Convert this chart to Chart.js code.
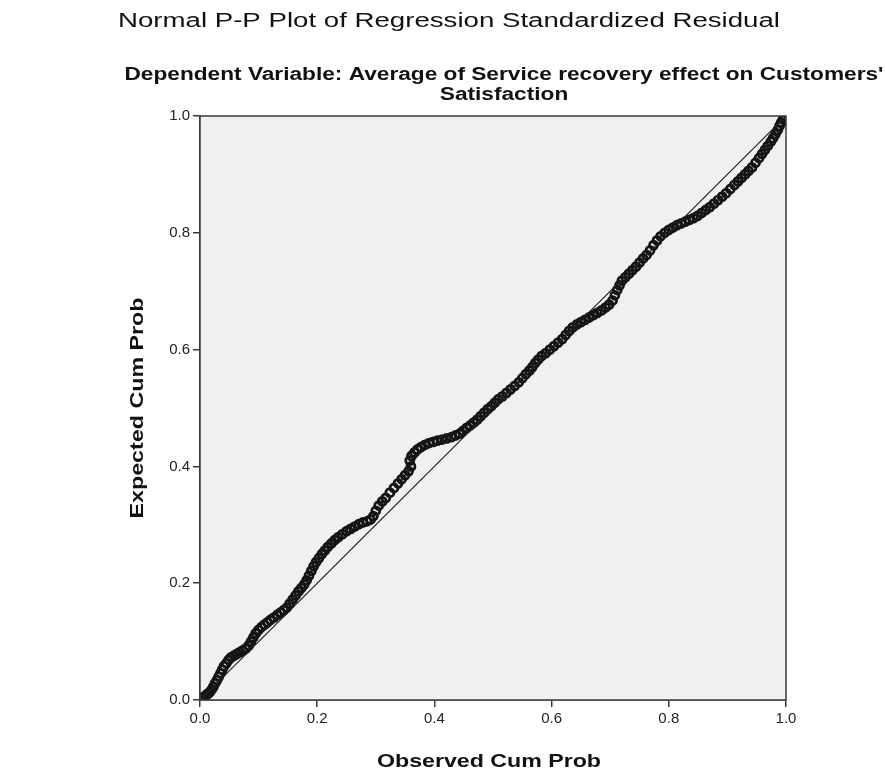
<!DOCTYPE html>
<html>
<head>
<meta charset="utf-8">
<script src="https://cdn.jsdelivr.net/npm/chart.js@4.4.1/dist/chart.umd.min.js"></script>
<style>
    html, body { margin: 0; padding: 0; background: #ffffff; }
    #wrap { width: 885px; height: 772px; }
</style>
</head>
<body>
<div id="wrap"><canvas id="ppChart" width="885" height="772"></canvas></div>
<script>

/// DATA ///

const titleText = 'Normal P-P Plot of Regression Standardized Residual';
const subtitleLines = ["Dependent Variable: Average of Service recovery effect on Customers'", 'Satisfaction'];
const xTitle = 'Observed Cum Prob';
const yTitle = 'Expected Cum Prob';
const tickValues = [0, 0.2, 0.4, 0.6, 0.8, 1.0];

// observed cumulative probability (x)
const observed = [
    0.002, 0.005, 0.008, 0.011, 0.014, 0.017, 0.020, 0.023, 0.026, 0.029,
    0.032, 0.035, 0.038, 0.041, 0.045, 0.049, 0.053, 0.058, 0.063, 0.068,
    0.073, 0.078, 0.083, 0.087, 0.091, 0.095, 0.100, 0.105, 0.110, 0.115,
    0.120, 0.126, 0.132, 0.138, 0.143, 0.148, 0.153, 0.158, 0.163, 0.168,
    0.173, 0.178, 0.182, 0.186, 0.190, 0.194, 0.198, 0.203, 0.208, 0.213,
    0.218, 0.224, 0.230, 0.236, 0.243, 0.250, 0.257, 0.264, 0.271, 0.278,
    0.285, 0.291, 0.296, 0.300, 0.305, 0.311, 0.317, 0.324, 0.331, 0.338,
    0.344, 0.350, 0.356, 0.360, 0.358, 0.361, 0.366, 0.371, 0.377, 0.384,
    0.391, 0.398, 0.405, 0.413, 0.421, 0.429, 0.436, 0.443, 0.449, 0.455,
    0.461, 0.467, 0.473, 0.479, 0.485, 0.491, 0.497, 0.503, 0.509, 0.516,
    0.523, 0.530, 0.537, 0.544, 0.550, 0.556, 0.562, 0.567, 0.572, 0.577,
    0.583, 0.590, 0.597, 0.604, 0.611, 0.618, 0.624, 0.630, 0.636, 0.643,
    0.650, 0.657, 0.664, 0.671, 0.678, 0.685, 0.692, 0.698, 0.704, 0.708,
    0.712, 0.716, 0.720, 0.726, 0.732, 0.738, 0.744, 0.750, 0.756, 0.762,
    0.768, 0.774, 0.780, 0.786, 0.793, 0.800, 0.807, 0.814, 0.821, 0.828,
    0.835, 0.842, 0.849, 0.856, 0.863, 0.870, 0.877, 0.884, 0.891, 0.898,
    0.905, 0.912, 0.918, 0.924, 0.930, 0.936, 0.942, 0.948, 0.954, 0.959,
    0.964, 0.969, 0.974, 0.978, 0.982, 0.986, 0.989, 0.992, 0.995, 0.998
];

// expected cumulative probability (y)
const expected = [
    0.001, 0.004, 0.006, 0.009, 0.011, 0.014, 0.018, 0.023, 0.029, 0.034,
    0.040, 0.046, 0.052, 0.058, 0.063, 0.069, 0.073, 0.076, 0.079, 0.082,
    0.085, 0.088, 0.093, 0.100, 0.107, 0.114, 0.120, 0.125, 0.129, 0.133,
    0.137, 0.141, 0.146, 0.150, 0.154, 0.158, 0.165, 0.172, 0.179, 0.186,
    0.192, 0.198, 0.205, 0.213, 0.221, 0.229, 0.236, 0.243, 0.250, 0.256,
    0.262, 0.268, 0.274, 0.279, 0.284, 0.289, 0.293, 0.297, 0.301, 0.304,
    0.306, 0.309, 0.315, 0.324, 0.333, 0.340, 0.346, 0.355, 0.363, 0.371,
    0.378, 0.385, 0.392, 0.400, 0.410, 0.418, 0.424, 0.429, 0.433, 0.437,
    0.440, 0.442, 0.444, 0.446, 0.448, 0.450, 0.453, 0.456, 0.461, 0.466,
    0.470, 0.475, 0.480, 0.486, 0.492, 0.498, 0.503, 0.509, 0.515, 0.520,
    0.526, 0.532, 0.538, 0.544, 0.551, 0.558, 0.564, 0.570, 0.577, 0.583,
    0.589, 0.594, 0.600, 0.606, 0.612, 0.618, 0.625, 0.632, 0.638, 0.643,
    0.647, 0.651, 0.655, 0.659, 0.663, 0.667, 0.672, 0.677, 0.684, 0.693,
    0.702, 0.710, 0.718, 0.724, 0.730, 0.736, 0.742, 0.749, 0.756, 0.762,
    0.770, 0.779, 0.787, 0.794, 0.800, 0.805, 0.809, 0.813, 0.816, 0.819,
    0.822, 0.825, 0.829, 0.834, 0.839, 0.844, 0.850, 0.856, 0.862, 0.868,
    0.875, 0.882, 0.888, 0.894, 0.900, 0.906, 0.912, 0.920, 0.928, 0.935,
    0.942, 0.949, 0.956, 0.962, 0.969, 0.976, 0.983, 0.989, 0.994, 0.997
];

// the reference diagonal
const diagonalX = [0, 1];
const diagonalY = [0, 1];


/// DRAWING HELPERS ///

const FONT = "'Liberation Sans', Arial, sans-serif";

// SPSS text looks horizontally stretched, so squeeze/stretch it to the measured width
function drawStretched(ctx, text, cx, y, font, targetW) {
    ctx.font = font;
    const w = ctx.measureText(text).width;
    ctx.save();
    ctx.translate(cx, y);
    ctx.scale(targetW / w, 1);
    ctx.textAlign = 'center';
    ctx.textBaseline = 'alphabetic';
    ctx.fillText(text, 0, 0);
    ctx.restore();
}

const spssDecor = {
    id: 'spssDecor',
    beforeDatasetsDraw(chart) {
        const { ctx, chartArea } = chart;
        // grey plot background
        ctx.save();
        ctx.fillStyle = '#f0f0f0';
        ctx.fillRect(chartArea.left, chartArea.top, chartArea.right - chartArea.left, chartArea.bottom - chartArea.top);
        ctx.restore();
    },
    afterDraw(chart) {
        const { ctx, chartArea } = chart;
        ctx.save();
        // frame round the plot
        ctx.strokeStyle = '#3a3a3a';
        ctx.lineWidth = 1.5;
        ctx.strokeRect(chartArea.left, chartArea.top, chartArea.right - chartArea.left, chartArea.bottom - chartArea.top);

        ctx.fillStyle = '#111111';
        drawStretched(ctx, titleText, 449, 27, '20px ' + FONT, 662);
        const subFont = 'bold 18px ' + FONT;
        ctx.font = subFont;
        const k = 759 / ctx.measureText(subtitleLines[0]).width;
        drawStretched(ctx, subtitleLines[0], 504, 80, subFont, 759);
        ctx.font = subFont;
        drawStretched(ctx, subtitleLines[1], 504, 100, subFont, ctx.measureText(subtitleLines[1]).width * k);

        // axis titles
        drawStretched(ctx, xTitle, 489, 767, 'bold 19px ' + FONT, 224);
        ctx.save();
        ctx.translate(143, 408);
        ctx.rotate(-Math.PI / 2);
        drawStretched(ctx, yTitle, 0, 0, 'bold 19px ' + FONT, 221);
        ctx.restore();
        ctx.restore();
    }
};


/// CHART ///

const ctx = document.getElementById('ppChart').getContext('2d');

const points = observed.map((x, i) => ({ x: x, y: expected[i] }));
const diagonal = diagonalX.map((x, i) => ({ x: x, y: diagonalY[i] }));

const axisCommon = {
    type: 'linear',
    min: 0,
    max: 1,
    afterBuildTicks: (scale) => { scale.ticks = tickValues.map(v => ({ value: v })); },
    ticks: {
        color: '#222222',
        font: { family: FONT, size: 15 },
        padding: 3,
        callback: (v) => Number(v).toFixed(1)
    },
    grid: {
        drawOnChartArea: false,
        drawTicks: true,
        tickLength: 7,
        color: '#3a3a3a',
        lineWidth: 1.5
    },
    border: { display: true, color: '#3a3a3a', width: 1.5 }
};

const config = {
    type: 'scatter',
    plugins: [spssDecor],
    data: {
        datasets: [
            {
                label: 'Residuals',
                data: points,
                pointStyle: 'circle',
                pointRadius: 4,
                pointBorderWidth: 2.8,
                borderColor: '#141414',
                backgroundColor: 'rgba(0,0,0,0)',
                order: 2
            },
            {
                type: 'line',
                label: 'Diagonal',
                data: diagonal,
                borderColor: '#222222',
                borderWidth: 1.2,
                pointRadius: 0,
                fill: false,
                order: 1
            }
        ]
    },
    options: {
        responsive: false,
        animation: false,
        layout: { padding: { top: 116, right: 99, bottom: 0, left: 0 } },
        scales: {
            x: Object.assign({}, axisCommon, {
                position: 'bottom',
                afterFit: (scale) => { scale.height = 72; }
            }),
            y: Object.assign({}, axisCommon, {
                position: 'left',
                afterFit: (scale) => { scale.width = 200; }
            })
        },
        plugins: {
            legend: { display: false },
            tooltip: { enabled: false }
        }
    }
};

const ppChart = new Chart(ctx, config);

</script>
</body>
</html>
